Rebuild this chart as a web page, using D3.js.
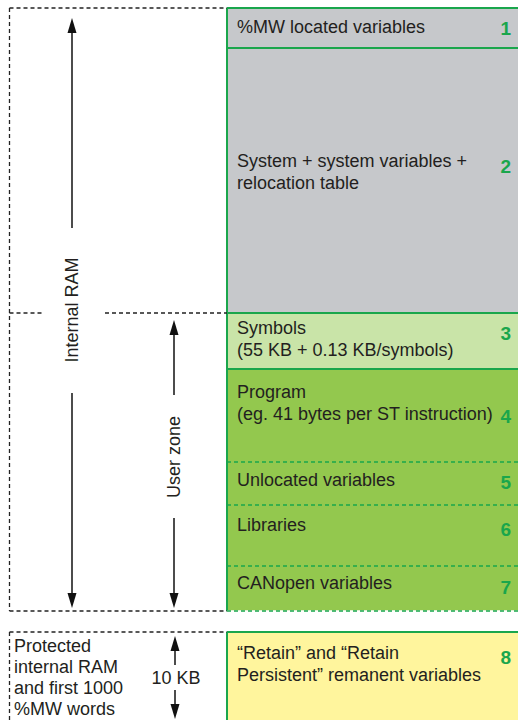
<!DOCTYPE html>
<html><head><meta charset="utf-8">
<script src="https://cdn.jsdelivr.net/npm/d3@7"></script>
<style>body{margin:0;background:#fff}svg{display:block}text{font-family:"Liberation Sans",Arial,sans-serif}</style>
</head><body>
<script>
// Memory blocks (top/bottom in memory-map units, 0 = top of RAM)
const blockIds    = ["1","2","3","4","5","6","7","8"];
const blockLabels = [["%MW located variables"],["System + system variables +","relocation table"],["Symbols","(55 KB + 0.13 KB/symbols)"],["Program","(eg. 41 bytes per ST instruction)"],["Unlocated variables"],["Libraries"],["CANopen variables"],["\u201cRetain\u201d and \u201cRetain","Persistent\u201d remanent variables"]];
const blockTop    = [0, 40, 305, 361, 454, 497, 558, 624];
const blockBottom = [40, 305, 361, 454, 497, 558, 603, 720];
const blockKind   = ["gray","gray","light","green","green","green","green","yellow"];
const topBorder   = ["solid","solid","solid","solid","dashed","dashed","dashed","solid"];
const labelOffset = [19, 113, 15, 23, 18, 20, 17, 21];
const numberOffset= [20, 118, 20, 47, 20, 24, 21, 25];
const zoneLabels  = ["Internal RAM","User zone","10 KB"];
const protectedLines = ["Protected","internal RAM","and first 1000","%MW words"];

const W = 518, H = 720;
const y = d3.scaleLinear().domain([0, 712]).range([8, 720]);
const colors = {gray:"#c6c8cb", light:"#c9e4a8", green:"#93c84e", yellow:"#fff59d"};
const green = "#1aa64c";
const svg = d3.select("body").append("svg").attr("width", W).attr("height", H);

const xL = 227, xR = 530, xDash = 9.5;
const FS = 18;

// blocks
const g = svg.append("g");
blockIds.forEach((id, i) => {
  const t = y(blockTop[i]), b = y(blockBottom[i]);
  g.append("rect").attr("x", xL).attr("y", t).attr("width", xR - xL).attr("height", b - t)
    .attr("fill", colors[blockKind[i]]);
});
blockIds.forEach((id, i) => {
  const t = y(blockTop[i]), b = y(blockBottom[i]);
  g.append("line").attr("x1", xL).attr("x2", xR).attr("y1", t).attr("y2", t)
    .attr("stroke", green).attr("stroke-width", topBorder[i] === "dashed" ? 1.3 : 2)
    .attr("stroke-dasharray", topBorder[i] === "dashed" ? "4,3" : null);
  g.append("line").attr("x1", xL).attr("x2", xL).attr("y1", t).attr("y2", b)
    .attr("stroke", green).attr("stroke-width", 2);
  blockLabels[i].forEach((ln, k) => {
    g.append("text").attr("x", 237).attr("y", t + labelOffset[i] + k * 21.5)
      .attr("dy", "0.35em").attr("font-size", FS).attr("fill", "#231f20").text(ln);
  });
  g.append("text").attr("x", 511).attr("y", t + numberOffset[i]).attr("dy", "0.35em")
    .attr("text-anchor", "end").attr("font-size", 19).attr("font-weight", "bold")
    .attr("fill", green).text(id);
});
// bottom dashed edge of block 7
g.append("line").attr("x1", xL).attr("x2", xR).attr("y1", y(603)).attr("y2", y(603))
  .attr("stroke", "#fff").attr("stroke-width", 1.5);
g.append("line").attr("x1", xL).attr("x2", xR).attr("y1", y(603)).attr("y2", y(603))
  .attr("stroke", green).attr("stroke-width", 1.5).attr("stroke-dasharray", "4,3");

// black dashed frames
const dash = {stroke:"#222", "stroke-width":1.3, "stroke-dasharray":"4,3", fill:"none"};
function dline(x1,y1,x2,y2){
  const l = svg.append("line").attr("x1",x1).attr("y1",y1).attr("x2",x2).attr("y2",y2);
  Object.entries(dash).forEach(([k,v]) => l.attr(k,v));
}
dline(xDash, y(0), xL, y(0));
dline(xDash, y(0), xDash, y(603));
dline(xDash, y(603), xL, y(603));
dline(xDash, y(305), 42, y(305));
dline(105, y(305), xL, y(305));
dline(xDash, y(624), xL, y(624));
dline(xDash, y(624), xDash, 722);

// arrows
function arrowHead(x, tipY, dir){
  const L = 15, w = 4.5;
  svg.append("path").attr("d", `M${x},${tipY} L${x-w},${tipY+dir*L} L${x+w},${tipY+dir*L} Z`).attr("fill", "#111");
}
function vline(x, y1, y2){
  svg.append("line").attr("x1",x).attr("x2",x).attr("y1",y1).attr("y2",y2).attr("stroke","#111").attr("stroke-width",1.5);
}
// Internal RAM
const xa = 72;
arrowHead(xa, 18, 1); vline(xa, 30, 228);
vline(xa, 393, 596); arrowHead(xa, 608, -1);
svg.append("text").attr("transform", `translate(${xa+6},${310}) rotate(-90)`)
  .attr("text-anchor","middle").attr("font-size",FS).attr("fill","#231f20").text(zoneLabels[0]);
// User zone
const xb = 174;
arrowHead(xb, 320, 1); vline(xb, 332, 395);
vline(xb, 518, 596); arrowHead(xb, 608, -1);
svg.append("text").attr("transform", `translate(${xb+6},${457}) rotate(-90)`)
  .attr("text-anchor","middle").attr("font-size",FS).attr("fill","#231f20").text(zoneLabels[1]);
// 10 KB
arrowHead(xb+1, 636, 1); vline(xb+1, 648, 665);
vline(xb+1, 690, 706); arrowHead(xb+1, 719, -1);
svg.append("text").attr("x", 176).attr("y", 678).attr("dy","0.35em").attr("text-anchor","middle")
  .attr("font-size",FS).attr("fill","#231f20").text(zoneLabels[2]);

// protected RAM text
protectedLines.forEach((ln, k) => {
  svg.append("text").attr("x", 14).attr("y", 646 + k * 21).attr("dy","0.35em")
    .attr("font-size",FS).attr("fill","#231f20").text(ln);
});
</script>
</body></html>
